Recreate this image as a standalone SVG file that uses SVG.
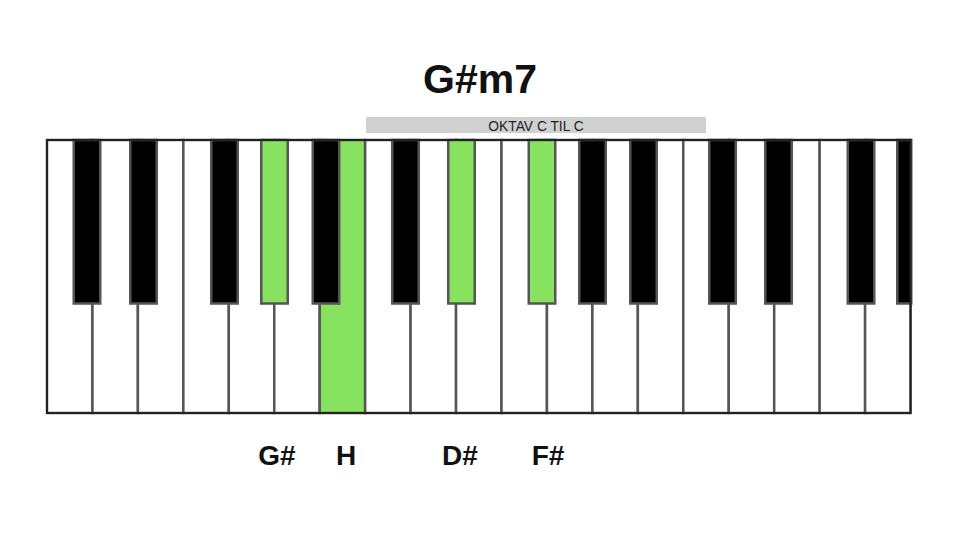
<svg xmlns="http://www.w3.org/2000/svg" width="960" height="540" viewBox="0 0 960 540">
  <style>
    .w { fill: #ffffff; stroke: #555555; stroke-width: 2.5; }
    .wg { fill: #86e25f; stroke: #555555; stroke-width: 2.5; }
    .b { fill: #000000; stroke: #555555; stroke-width: 2.5; }
    .bg { fill: #86e25f; stroke: #555555; stroke-width: 2.5; }
    .title { font-family: "Liberation Sans", Arial, sans-serif; font-weight: bold; font-size: 41px; fill: #111; text-anchor: middle; }
    .bar { font-family: "Liberation Sans", Arial, sans-serif; font-size: 13.8px; fill: #222; text-anchor: middle; }
    .lbl { font-family: "Liberation Sans", Arial, sans-serif; font-weight: bold; font-size: 28px; fill: #111; text-anchor: middle; }
  </style>
  <rect width="960" height="540" fill="#ffffff"/>

  <g id="title"><text class="title" x="480" y="93">G#m7</text></g>

  <g id="octave-bar">
    <rect x="366" y="117" width="340" height="16" fill="#d0d0d0"/>
    <text class="bar" x="536" y="130.5">OKTAV C TIL C</text>
  </g>

  <g id="white-keys">
    <g id="w1"><rect class="w" x="47" y="140" width="45.45" height="273"/></g>
    <g id="w2"><rect class="w" x="92.45" y="140" width="45.45" height="273"/></g>
    <g id="w3"><rect class="w" x="137.9" y="140" width="45.45" height="273"/></g>
    <g id="w4"><rect class="w" x="183.35" y="140" width="45.45" height="273"/></g>
    <g id="w5"><rect class="w" x="228.8" y="140" width="45.45" height="273"/></g>
    <g id="w6"><rect class="w" x="274.25" y="140" width="45.45" height="273"/></g>
    <g id="w7-H"><rect class="wg" x="319.7" y="140" width="45.45" height="273"/></g>
    <g id="w8"><rect class="w" x="365.15" y="140" width="45.45" height="273"/></g>
    <g id="w9"><rect class="w" x="410.6" y="140" width="45.45" height="273"/></g>
    <g id="w10"><rect class="w" x="456.05" y="140" width="45.45" height="273"/></g>
    <g id="w11"><rect class="w" x="501.5" y="140" width="45.45" height="273"/></g>
    <g id="w12"><rect class="w" x="546.95" y="140" width="45.45" height="273"/></g>
    <g id="w13"><rect class="w" x="592.4" y="140" width="45.45" height="273"/></g>
    <g id="w14"><rect class="w" x="637.85" y="140" width="45.45" height="273"/></g>
    <g id="w15"><rect class="w" x="683.3" y="140" width="45.45" height="273"/></g>
    <g id="w16"><rect class="w" x="728.75" y="140" width="45.45" height="273"/></g>
    <g id="w17"><rect class="w" x="774.2" y="140" width="45.45" height="273"/></g>
    <g id="w18"><rect class="w" x="819.65" y="140" width="45.45" height="273"/></g>
    <g id="w19"><rect class="w" x="865.1" y="140" width="45.45" height="273"/></g>
  </g>

  <g id="black-keys">
    <g id="b1"><rect class="b" x="73.75" y="140" width="26.5" height="163.5"/></g>
    <g id="b2"><rect class="b" x="130.25" y="140" width="26.5" height="163.5"/></g>
    <g id="b3"><rect class="b" x="211.25" y="140" width="26.5" height="163.5"/></g>
    <g id="b4-Gsharp"><rect class="bg" x="261.25" y="140" width="26.5" height="163.5"/></g>
    <g id="b5"><rect class="b" x="312.75" y="140" width="26.5" height="163.5"/></g>
    <g id="b6"><rect class="b" x="392.25" y="140" width="26.5" height="163.5"/></g>
    <g id="b7-Dsharp"><rect class="bg" x="448.25" y="140" width="26.5" height="163.5"/></g>
    <g id="b8-Fsharp"><rect class="bg" x="528.75" y="140" width="26.5" height="163.5"/></g>
    <g id="b9"><rect class="b" x="579.25" y="140" width="26.5" height="163.5"/></g>
    <g id="b10"><rect class="b" x="630.25" y="140" width="26.5" height="163.5"/></g>
    <g id="b11"><rect class="b" x="709.25" y="140" width="26.5" height="163.5"/></g>
    <g id="b12"><rect class="b" x="765.25" y="140" width="26.5" height="163.5"/></g>
    <g id="b13"><rect class="b" x="847.75" y="140" width="26.5" height="163.5"/></g>
    <g id="b14"><rect class="b" x="897.25" y="140" width="14" height="163.5"/></g>
  </g>

  <g id="border"><rect x="47" y="140" width="863.55" height="273" fill="none" stroke="#222222" stroke-width="2"/></g>

  <g id="labels">
    <text class="lbl" x="277" y="465">G#</text>
    <text class="lbl" x="346" y="465">H</text>
    <text class="lbl" x="460" y="465">D#</text>
    <text class="lbl" x="548" y="465">F#</text>
  </g>
</svg>
